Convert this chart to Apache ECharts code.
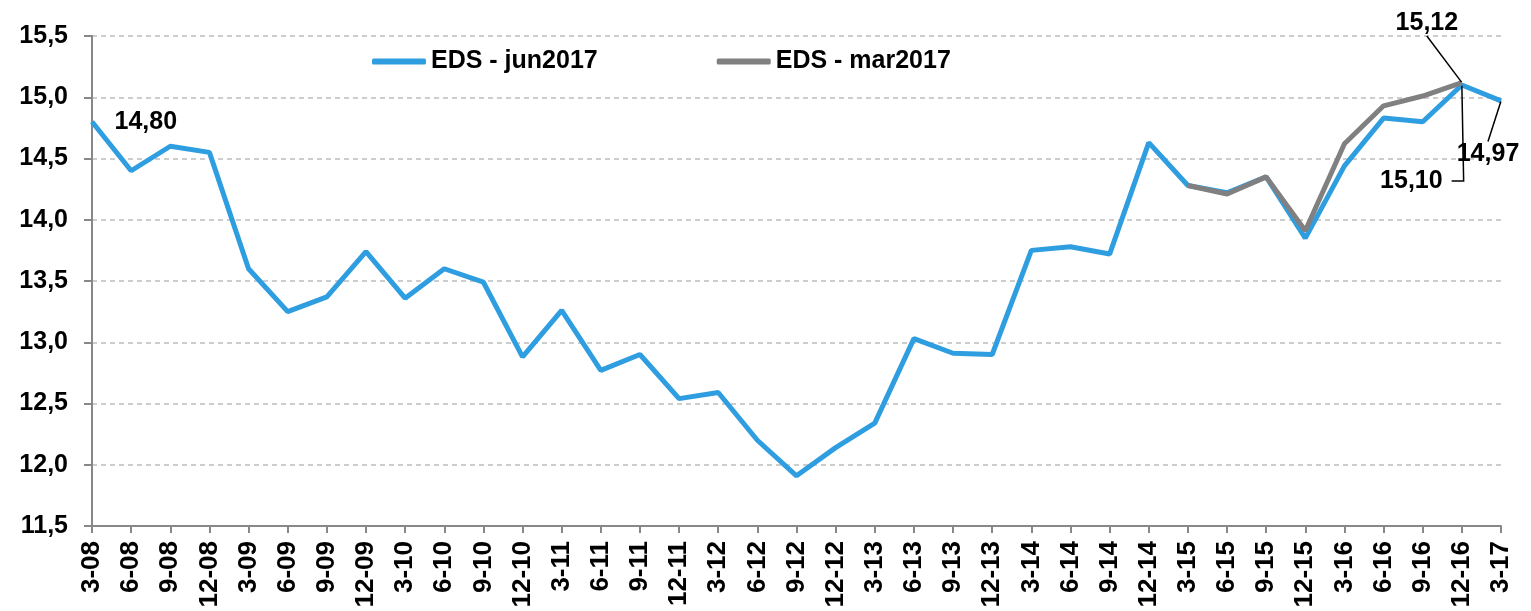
<!DOCTYPE html>
<html>
<head>
<meta charset="utf-8">
<script src="https://cdn.jsdelivr.net/npm/echarts@6/dist/echarts.min.js"></script>
<style>
  html, body { margin: 0; padding: 0; background: #fff; }
  #chart { width: 1531px; height: 611px; }
</style>
</head>
<body>
<div id="chart"></div>
<script>
// quarters, 3-08 ... 3-17
const quarters = [
  '3-08', '6-08', '9-08', '12-08', '3-09', '6-09', '9-09', '12-09',
  '3-10', '6-10', '9-10', '12-10', '3-11', '6-11', '9-11', '12-11',
  '3-12', '6-12', '9-12', '12-12', '3-13', '6-13', '9-13', '12-13',
  '3-14', '6-14', '9-14', '12-14', '3-15', '6-15', '9-15', '12-15',
  '3-16', '6-16', '9-16', '12-16', '3-17'
];
const edsJun2017 = [
  14.80, 14.40, 14.60, 14.55, 13.60, 13.25, 13.37, 13.74,
  13.36, 13.60, 13.49, 12.88, 13.26, 12.77, 12.90, 12.54,
  12.59, 12.20, 11.91, 12.14, 12.34, 13.03, 12.91, 12.90,
  13.75, 13.78, 13.72, 14.63, 14.28, 14.22, 14.35, 13.85,
  14.44, 14.83, 14.80, 15.10, 14.97
];
const edsMar2017 = [
  null, null, null, null, null, null, null, null,
  null, null, null, null, null, null, null, null,
  null, null, null, null, null, null, null, null,
  null, null, null, null, 14.28, 14.21, 14.35, 13.91,
  14.62, 14.93, 15.01, 15.12, null
];
const seriesNames = ['EDS - jun2017', 'EDS - mar2017'];
const yTicks = { min: 11.5, max: 15.5, step: 0.5 };
// points that carry a value label (data indexes)
const labelledJun = [0, 35, 36];
const labelledMar = [35];

const FONT = '"Liberation Sans", Arial, sans-serif';
const fmt = (v, d) => v.toFixed(d).replace('.', ',');

// label placement / guide line tweaks, keyed "series-index"
const labelTweaks = {
  '0-0': { label: { position: 'right', distance: 22 }, guide: false },
  // wide invisible box on the left so the guide leaves from the right side (elbow)
  '0-35': {
    move: { dx: -96, dy: 78 },
    label: { padding: [0, 9, 0, 100], backgroundColor: 'rgba(255,255,255,0)' },
    guide: true,
    length2: 12
  },
  '0-36': { move: { dx: -13, dy: 35 }, guide: true },
  '1-35': { move: { dx: -35, dy: -41 }, guide: true }
};

function withLabels(values, s, labelled, position) {
  return values.map((v, i) => {
    if (v == null || labelled.indexOf(i) < 0) return v;
    const t = labelTweaks[s + '-' + i] || {};
    return {
      value: v,
      symbol: 'circle',
      symbolSize: 1,
      label: Object.assign({
        show: true,
        position: position,
        formatter: fmt(v, 2),
        color: '#000',
        fontFamily: FONT,
        fontWeight: 'bold',
        fontSize: 25
      }, t.label || {}),
      labelLine: {
        show: !!t.guide,
        length2: t.length2 || 0,
        minTurnAngle: 0,
        lineStyle: { color: '#000', width: 1.5 }
      }
    };
  });
}

function moveFor(s) {
  return p => {
    const t = labelTweaks[s + '-' + p.dataIndex];
    return (t && t.move) || {};
  };
}

const chart = echarts.init(document.getElementById('chart'));

const option = {
  backgroundColor: '#fff',
  animation: false,
  grid: { left: 92, right: 30, top: 36, bottom: 85 },
  legend: {
    left: 367,
    top: 44,
    icon: 'roundRect',
    itemWidth: 54,
    itemHeight: 6,
    itemGap: 119,
    textStyle: { fontFamily: FONT, fontWeight: 'bold', fontSize: 25, color: '#000' },
    data: seriesNames
  },
  xAxis: {
    type: 'category',
    data: quarters,
    boundaryGap: false,
    axisLine: { lineStyle: { color: '#888', width: 2 } },
    axisTick: { show: true, length: 7, lineStyle: { color: '#888', width: 2 } },
    axisLabel: {
      interval: 0,
      rotate: 90,
      margin: 15,
      color: '#000',
      fontFamily: FONT,
      fontWeight: 'bold',
      fontSize: 26
    },
    splitLine: { show: false }
  },
  yAxis: {
    type: 'value',
    min: yTicks.min,
    max: yTicks.max,
    interval: yTicks.step,
    axisLine: { show: true, lineStyle: { color: '#888', width: 2 } },
    axisTick: { show: true, length: 8, lineStyle: { color: '#888', width: 2 } },
    axisLabel: {
      margin: 24,
      color: '#000',
      fontFamily: FONT,
      fontWeight: 'bold',
      fontSize: 25,
      formatter: v => fmt(v, 1)
    },
    splitLine: { lineStyle: { color: '#bdbdbd', width: 1.5, type: [5, 4] } }
  },
  series: [
    {
      name: seriesNames[0],
      type: 'line',
      symbol: 'none',
      color: '#2f9ee0',
      lineStyle: { width: 5, color: '#2f9ee0' },
      z: 2,
      data: withLabels(edsJun2017, 0, labelledJun, 'bottom'),
      labelLayout: moveFor(0)
    },
    {
      name: seriesNames[1],
      type: 'line',
      symbol: 'none',
      color: '#808080',
      lineStyle: { width: 5, color: '#808080' },
      z: 3,
      data: withLabels(edsMar2017, 1, labelledMar, 'top'),
      labelLayout: moveFor(1)
    }
  ]
};

chart.setOption(option);
</script>
</body>
</html>
